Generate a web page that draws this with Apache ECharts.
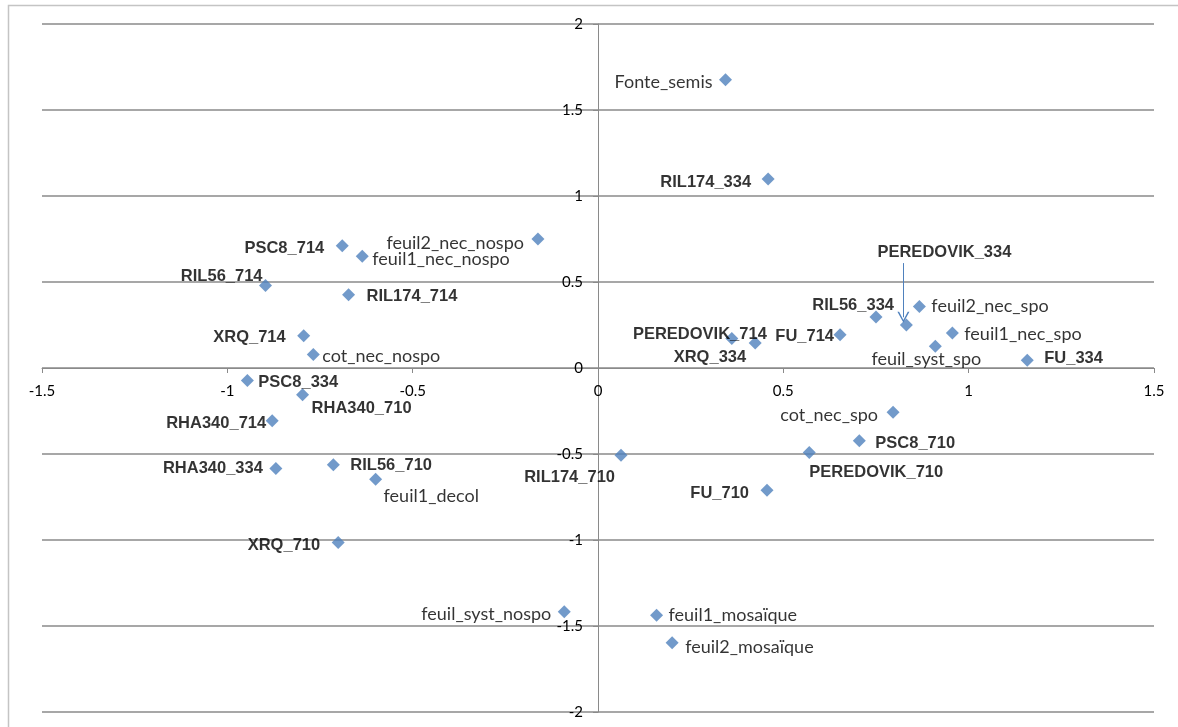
<!DOCTYPE html>
<html>
<head>
<meta charset="utf-8">
<script src="https://cdn.jsdelivr.net/npm/echarts@6/dist/echarts.min.js"></script>
<style>
html,body{margin:0;padding:0;background:#fff;}
#chart{width:1178px;height:727px;}
</style>
</head>
<body>
<div id="chart"></div>
<script>
// Genotype points (bold labels)
const genoNames = ['PSC8_714','RIL56_714','RIL174_714','XRQ_714','PSC8_334','RHA340_710','RHA340_714','RHA340_334','RIL56_710','XRQ_710','RIL174_334','PEREDOVIK_334','RIL56_334','FU_714','PEREDOVIK_714','XRQ_334','FU_334','PSC8_710','RIL174_710','PEREDOVIK_710','FU_710'];
const genoX = [-0.690,-0.897,-0.673,-0.794,-0.946,-0.797,-0.879,-0.869,-0.714,-0.701,0.459,0.832,0.750,0.653,0.361,0.424,1.158,0.705,0.062,0.570,0.456];
const genoY = [0.711,0.479,0.426,0.188,-0.073,-0.156,-0.306,-0.585,-0.563,-1.014,1.099,0.250,0.297,0.194,0.171,0.145,0.045,-0.423,-0.507,-0.491,-0.711];

// Symptom variables (regular labels)
const varNames = ['feuil2_nec_nospo','feuil1_nec_nospo','cot_nec_nospo','feuil1_decol','feuil_syst_nospo','Fonte_semis','feuil2_nec_spo','feuil1_nec_spo','feuil_syst_spo','cot_nec_spo','feuil1_mosaïque','feuil2_mosaïque'];
const varX = [-0.162,-0.636,-0.768,-0.600,-0.091,0.344,0.867,0.956,0.910,0.796,0.158,0.200];
const varY = [0.750,0.649,0.078,-0.647,-1.417,1.676,0.358,0.203,0.126,-0.257,-1.437,-1.598];

// Axis ticks
const xTicks = {min: -1.5, max: 1.5, step: 0.5};
const yTicks = {min: -2, max: 2, step: 0.5};

// Label placement (style): [align, dx, dy] relative to marker centre
const labelPlace = {
  'feuil2_nec_nospo': ['right', -14, 4],
  'PSC8_714': ['right', -18, 3],
  'RIL56_714': ['right', -3, -9],
  'XRQ_714': ['right', -18, 2],
  'RHA340_714': ['right', -6, 3],
  'RHA340_334': ['right', -13, 0],
  'XRQ_710': ['right', -18, 3],
  'feuil_syst_nospo': ['right', -13, 2],
  'Fonte_semis': ['right', -13, 2],
  'RIL174_334': ['right', -17, 3],
  'RIL56_334': ['right', 18, -11],
  'FU_714': ['right', -6, 2],
  'PEREDOVIK_714': ['right', 35, -4],
  'XRQ_334': ['right', -9, 14],
  'cot_nec_spo': ['right', -15, 3],
  'RIL174_710': ['right', -6, 22],
  'FU_710': ['right', -18, 3],
  'feuil1_nec_nospo': ['left', 10, 3],
  'RIL174_714': ['left', 18, 2],
  'cot_nec_nospo': ['left', 9, 2],
  'PSC8_334': ['left', 11, 2],
  'RHA340_710': ['left', 9, 14],
  'RIL56_710': ['left', 17, 1],
  'feuil1_decol': ['left', 8, 17],
  'feuil2_nec_spo': ['left', 12, 0],
  'feuil1_nec_spo': ['left', 12, 1],
  'FU_334': ['left', 17, -2],
  'PSC8_710': ['left', 16, 3],
  'PEREDOVIK_710': ['left', 0, 20],
  'feuil1_mosaïque': ['left', 12, 0],
  'feuil2_mosaïque': ['left', 13, 4],
  'feuil_syst_spo': ['center', -9, 13],
  'PEREDOVIK_334': ['center', 38, -73]
};

function buildData(names, xs, ys) {
  return names.map(function (n, i) {
    const p = labelPlace[n] || ['left', 10, 0];
    return {
      name: n,
      value: [xs[i], ys[i]],
      label: { align: p[0], offset: [p[1], p[2]] }
    };
  });
}

const blue = '#4F81BD';
const grey = '#8a8a8a';

const W = 1178, H = 727;
const grid = { left: 42, right: 24, top: 24, bottom: 15 };
const gridW = W - grid.left - grid.right;
const gridH = H - grid.top - grid.bottom;
// place the axes so that they cross at the origin
const xAxisOffset = -gridH * (0 - yTicks.min) / (yTicks.max - yTicks.min);
const yAxisOffset = -gridW * (0 - xTicks.min) / (xTicks.max - xTicks.min);

// Leader arrow for PEREDOVIK_334, derived from the point's value
const arrowIdx = genoNames.indexOf('PEREDOVIK_334');
const ax = genoX[arrowIdx] - 0.008;
const arrowLine = [[
  { coord: [ax, genoY[arrowIdx] + 0.36], symbol: 'none' },
  { coord: [ax, genoY[arrowIdx] + 0.045], symbol: 'path://M0,10 L5,0 L10,10 L8.6,10 L5,2.6 L1.4,10 Z', symbolSize: [12, 11] }
]];

const chart = echarts.init(document.getElementById('chart'));
chart.setOption({
  animation: false,
  backgroundColor: '#fff',
  graphic: [{
    type: 'rect',
    shape: { x: 8.5, y: 5.5, width: 1400, height: 1000 },
    style: { fill: 'none', stroke: '#c4c4c4', lineWidth: 1.5 },
    silent: true, z: -10
  }],
  grid: Object.assign({ containLabel: false, outerBoundsMode: 'none' }, grid),
  xAxis: {
    type: 'value',
    position: 'bottom',
    offset: xAxisOffset,
    min: xTicks.min, max: xTicks.max, interval: xTicks.step,
    axisLine: { show: true, onZero: false, lineStyle: { color: grey, width: 1 } },
    axisTick: { show: true, length: 5, lineStyle: { color: grey } },
    splitLine: { show: false },
    axisLabel: { color: '#000', fontFamily: 'Lato', fontSize: 15, margin: 16 }
  },
  yAxis: {
    type: 'value',
    position: 'left',
    offset: yAxisOffset,
    min: yTicks.min, max: yTicks.max, interval: yTicks.step,
    axisLine: { show: true, onZero: false, lineStyle: { color: grey, width: 1 } },
    axisTick: { show: true, length: 5, lineStyle: { color: grey } },
    splitLine: { show: true, lineStyle: { color: grey, width: 1.5 } },
    axisLabel: { color: '#000', fontFamily: 'Lato', fontSize: 15, margin: 15 }
  },
  series: [
    {
      type: 'scatter',
      name: 'genotypes',
      symbol: 'diamond',
      symbolSize: 13,
      itemStyle: { color: blue },
      label: {
        show: true, position: 'inside', formatter: '{b}',
        color: '#000', fontFamily: 'Liberation Sans', fontWeight: 'bold', fontSize: 16.5,
        verticalAlign: 'middle'
      },
      data: buildData(genoNames, genoX, genoY),
      markLine: {
        silent: true,
        symbol: ['none', 'arrow'],
        label: { show: false },
        lineStyle: { color: blue, width: 1, type: 'solid' },
        itemStyle: { color: blue },
        data: arrowLine
      }
    },
    {
      type: 'scatter',
      name: 'variables',
      symbol: 'diamond',
      symbolSize: 13,
      itemStyle: { color: blue },
      label: {
        show: true, position: 'inside', formatter: '{b}',
        color: '#000', fontFamily: 'Lato', fontSize: 18,
        verticalAlign: 'middle'
      },
      data: buildData(varNames, varX, varY)
    }
  ]
});
</script>
</body>
</html>
